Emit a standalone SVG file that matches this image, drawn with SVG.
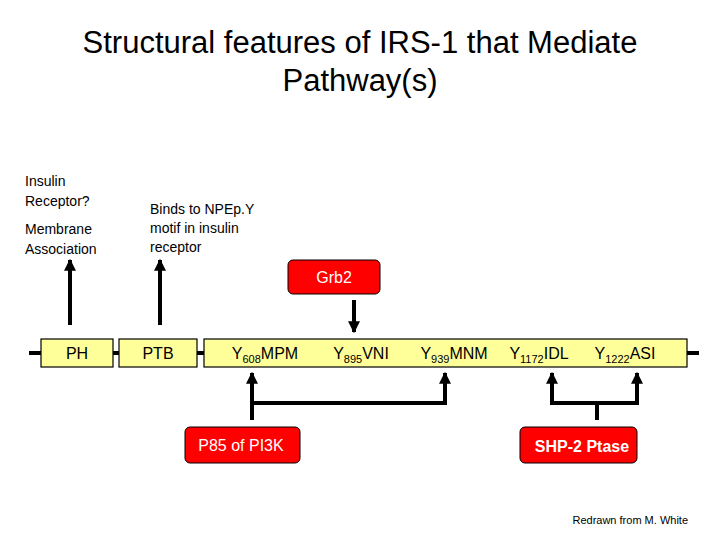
<svg xmlns="http://www.w3.org/2000/svg" width="720" height="540" viewBox="0 0 720 540">
<style>
text{font-family:"Liberation Sans",Arial,sans-serif;fill:#000}
.t{font-size:31px}
.l{font-size:14px}
.b{font-size:16px}
.dom{fill:#ffff99;stroke:#000;stroke-width:1.2}
.red{fill:#ff0000;stroke:#000;stroke-width:1}
.w{fill:#fff;font-size:16px}
.c{stroke:#000;stroke-width:4;fill:none}
</style>
<defs>
<marker id="ah" viewBox="0 0 10 10" refX="9" refY="5" markerWidth="3" markerHeight="3" orient="auto"><path d="M0,0L10,5L0,10z" fill="#000"/></marker>
</defs>
<rect width="720" height="540" fill="#fff"/>
<text class="t" x="360" y="53" text-anchor="middle">Structural features of IRS-1 that Mediate</text>
<text class="t" x="360" y="91" text-anchor="middle">Pathway(s)</text>
<text class="l" x="25" y="186">Insulin</text>
<text class="l" x="25" y="206">Receptor?</text>
<text class="l" x="25" y="234">Membrane</text>
<text class="l" x="25" y="254">Association</text>
<text class="l" x="150" y="214">Binds to NPEp.Y</text>
<text class="l" x="150" y="233">motif in insulin</text>
<text class="l" x="150" y="252">receptor</text>
<g id="connectors">
<line class="c" x1="29" y1="353" x2="699" y2="353"/>
<line class="c" x1="70" y1="325" x2="70" y2="260" marker-end="url(#ah)"/>
<line class="c" x1="160" y1="325" x2="160" y2="260" marker-end="url(#ah)"/>
<line class="c" x1="354" y1="300" x2="354" y2="332" marker-end="url(#ah)"/>
<line class="c" x1="252" y1="420" x2="252" y2="373" marker-end="url(#ah)"/>
<polyline class="c" points="252,403 445,403 445,373" marker-end="url(#ah)"/>
<line class="c" x1="597" y1="420" x2="597" y2="403"/>
<polyline class="c" points="552,373 552,403 637,403 637,373"/>
<line class="c" x1="552" y1="390" x2="552" y2="373" marker-end="url(#ah)"/>
<line class="c" x1="637" y1="390" x2="637" y2="373" marker-end="url(#ah)"/>
</g>
<g id="PH"><rect class="dom" x="41" y="339" width="72" height="28"/><text class="b" x="77" y="359" text-anchor="middle">PH</text></g>
<g id="PTB"><rect class="dom" x="119" y="339" width="78" height="28"/><text class="b" x="158" y="359" text-anchor="middle">PTB</text></g>
<g id="tail"><rect class="dom" x="204" y="339" width="483" height="28"/>
<text class="b" x="265" y="359" text-anchor="middle">Y<tspan font-size="11" dy="4">608</tspan><tspan dy="-4">MPM</tspan></text>
<text class="b" x="361" y="359" text-anchor="middle">Y<tspan font-size="11" dy="4">895</tspan><tspan dy="-4">VNI</tspan></text>
<text class="b" x="454" y="359" text-anchor="middle">Y<tspan font-size="11" dy="4">939</tspan><tspan dy="-4">MNM</tspan></text>
<text class="b" x="539" y="359" text-anchor="middle">Y<tspan font-size="11" dy="4">1172</tspan><tspan dy="-4">IDL</tspan></text>
<text class="b" x="625" y="359" text-anchor="middle">Y<tspan font-size="11" dy="4">1222</tspan><tspan dy="-4">ASI</tspan></text>
</g>
<g id="Grb2"><rect class="red" x="288" y="260" width="92" height="34" rx="5"/><text class="w" x="334" y="283" text-anchor="middle">Grb2</text></g>
<g id="P85"><rect class="red" x="185" y="427" width="115" height="36" rx="5"/><text class="w" x="241" y="451" text-anchor="middle">P85 of PI3K</text></g>
<g id="SHP2"><rect class="red" x="520" y="427" width="117" height="36" rx="5"/><text class="w" x="582" y="452" text-anchor="middle" font-weight="bold">SHP-2 Ptase</text></g>
<text x="688" y="524" text-anchor="end" font-size="11">Redrawn from M. White</text>
</svg>
